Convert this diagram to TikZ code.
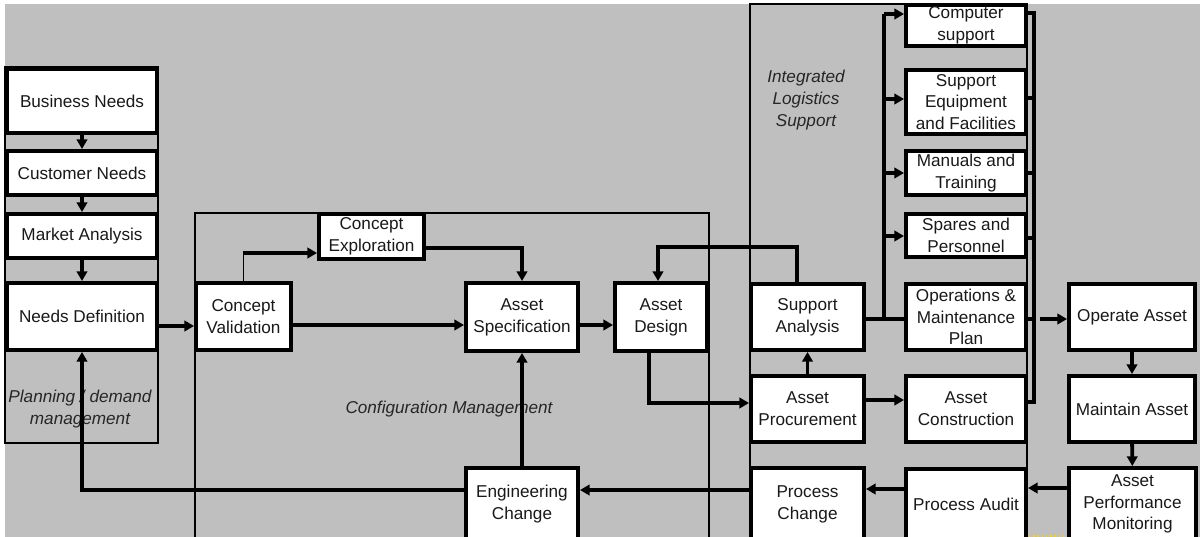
\documentclass[tikz,border=0pt]{standalone}
\usepackage{fontspec}
\setmainfont{Liberation Sans}
\usetikzlibrary{arrows.meta}
\newcommand\boxfont{\fontsize{12.2}{15.5}\selectfont}
\newcommand\bx[6]{\node[box, minimum width={(#4-#2)*0.025cm}, minimum height={(#5-#3)*0.025cm}] (#1) at ({(#2+#4)/2},{(#3+#5)/2}) {#6};}
\begin{document}
\begin{tikzpicture}[x=0.025cm,y=-0.025cm,
  box/.style={draw=black, fill=white, line width=2.8pt, align=center, inner sep=0pt, font=\boxfont, text=black!90},
  cont/.style={draw=black, line width=1.4pt},
  conn/.style={line width=2.8pt},
  bus/.style={line width=2.2pt},
  arr/.style={line width=2.8pt, -{Triangle[length=0.24cm,width=0.26cm]}},
  lbl/.style={font=\boxfont\itshape, align=center, text=black!85}]
\useasboundingbox (0,0) rectangle (1200,537);
\fill[white] (0,0) rectangle (1200,537);
\fill[black!25] (5,4) rectangle (1200,537);

% containers
\draw[cont] (5,67) rectangle (158,443);
\draw[cont] (195,545) -- (195,213) -- (709,213) -- (709,545);
\draw[cont] (750,545) -- (750,4) -- (1027,4) -- (1027,545);

% container labels
\node[lbl] (plan) at (80,409) {Planning / demand\\management};
\node[lbl] (cfg) at (449,409) {Configuration Management};
\node[lbl] (ils) at (806,100) {Integrated\\Logistics\\Support};

% left column
\bx{bn}{7}{69}{157}{133}{Business Needs}
\bx{cn}{7}{151}{157}{195}{Customer Needs}
\bx{ma}{7}{214}{157}{258}{Market Analysis}
\bx{nd}{7}{283}{157}{350}{Needs Definition}

% configuration management
\bx{cv}{196}{283}{291}{350}{Concept\\Validation}
\bx{ce}{319}{214}{424}{259}{Concept\\Exploration}
\bx{as}{466}{283}{578}{351}{Asset\\Specification}
\bx{ad}{615}{283}{707}{351}{Asset\\Design}
\bx{ec}{466}{468}{578}{540}{Engineering\\Change}

% ILS middle column
\bx{sa}{751}{284}{864}{350}{Support\\Analysis}
\bx{ap}{751}{376}{864}{442}{Asset\\Procurement}
\bx{pc}{751}{468}{864}{540}{Process\\Change}

% ILS right column
\bx{cs}{906}{5}{1026}{46}{Computer\\support}
\bx{se}{906}{70}{1026}{134}{Support\\Equipment\\and Facilities}
\bx{mt}{906}{151}{1026}{195}{Manuals and\\Training}
\bx{sp}{906}{214}{1026}{257}{Spares and\\Personnel}
\bx{om}{906}{284}{1026}{350}{Operations \&\\Maintenance\\Plan}
\bx{ac}{906}{376}{1026}{442}{Asset\\Construction}
\bx{pa}{906}{469}{1026}{540}{Process Audit}

% operation column
\bx{oa}{1069}{284}{1195}{350}{Operate Asset}
\bx{mta}{1069}{376}{1195}{442}{Maintain Asset}
\bx{apm}{1069}{468}{1196}{540}{Asset\\Performance\\Monitoring}

% helper coordinates
\coordinate (h326) at (0,326);
\coordinate (h325) at (0,325);
\coordinate (h253) at (0,253);
\coordinate (h248) at (0,248);
\coordinate (h490) at (0,490);
\coordinate (h489) at (0,489);
\coordinate (h488) at (0,488);
\coordinate (h400) at (0,400);
\coordinate (v797) at (797,0);
\coordinate (k658) at (658,247);
\coordinate (k649) at (649,403);

% planning chain
\draw[arr] (bn) -- (cn);
\draw[arr] (cn) -- (ma);
\draw[arr] (ma) -- (nd);
\draw[arr] (nd.east |- h326) -- (cv.west |- h326);

% configuration management
\draw[line width=1.4pt] (cv.north) -- (cv.north |- h253);
\draw[arr] ([xshift=-0.5pt]cv.north |- h253) -- (ce.west |- h253);
\draw[arr] (ce.east |- h248) -| (as.north);
\draw[arr] (cv.east |- h325) -- (as.west |- h325);
\draw[arr] (as.east |- h325) -- (ad.west |- h325);
\draw[arr] (ec) -- (as);
\draw[arr] (pc.west |- h490) -- (ec.east |- h490);
\draw[arr] (ec.west |- h490) -| (nd.south);

% design / ILS links
\draw[arr] (sa.north -| v797) |- (k658) -- (ad.north -| k658);
\draw[arr] (ap) -- (sa);
\draw[arr] (ad.south -| k649) |- (ap.west |- k649);
\draw[arr] (ap.east |- h400) -- (ac.west |- h400);
\draw[arr] (pa.west |- h489) -- (pc.east |- h489);
\draw[arr] (apm.west |- h488) -- (pa.east |- h488);
\draw[arr] (oa) -- (mta);
\draw[arr] (mta) -- (apm);

% distribution bus
\coordinate (d14) at (884,14);
\coordinate (d98) at (884,99);
\coordinate (d172) at (884,173);
\coordinate (d236) at (884,236);
\coordinate (d319) at (884,319);
\draw[conn] (sa.east |- d319) -- (om.west |- d319);
\draw[conn] (d319) -- (d14);
\draw[arr] (d14) -- (cs.west |- d14);
\draw[arr] (d98) -- (se.west |- d98);
\draw[arr] (d172) -- (mt.west |- d172);
\draw[arr] (d236) -- (sp.west |- d236);

% collector bus
\coordinate (c13) at (1034,13);
\coordinate (c98) at (1034,98);
\coordinate (c173) at (1034,173);
\coordinate (c238) at (1034,238);
\coordinate (c319) at (1034,319);
\coordinate (c402) at (1034,402);
\draw[bus] (cs.east |- c13) -| (c402) -- (ac.east |- c402);
\draw[bus] (se.east |- c98) -- (c98);
\draw[bus] (mt.east |- c173) -- (c173);
\draw[bus] (sp.east |- c238) -- (c238);
\draw[bus] (om.east |- c319) -- (c319);
\coordinate (c319b) at (1040,319);
\draw[arr] (c319b) -- (oa.west |- c319b);

\draw[yellow!70!orange, dotted, line width=1pt] (1029,536) -- (1066,536);
\end{tikzpicture}
\end{document}
